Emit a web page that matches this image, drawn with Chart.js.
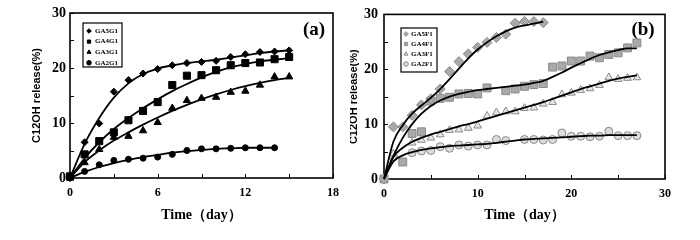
<!DOCTYPE html>
<html>
<head>
<meta charset="utf-8">
<script src="https://cdn.jsdelivr.net/npm/chart.js@4.4.1/dist/chart.umd.min.js"></script>
<style>
html, body { margin: 0; padding: 0; background: #fff; }
#wrap { position: relative; width: 700px; height: 240px; }
canvas { position: absolute; top: 0; }
#chartA { left: 0; }
#chartB { left: 350px; }
</style>
</head>
<body>
<div id="wrap">
  <canvas id="chartA" width="350" height="240"></canvas>
  <canvas id="chartB" width="350" height="240"></canvas>
</div>
<script>
// Panel (a) - GxG1 samples, measured points
const daysA = [0, 1, 2, 3, 4, 5, 6, 7, 8, 9, 10, 11, 12, 13, 14, 15];
const ga5g1 = [0, 6.5, 9.9, 15.7, 17.8, 19.0, 19.8, 20.5, 20.9, 21.1, 21.3, 22.0, 22.5, 22.9, 23.0, 23.2];
const ga4g1 = [0.3, 4.3, 6.7, 8.3, 10.5, 12.2, 13.8, 16.9, 18.6, 18.7, 19.6, 20.5, 20.9, 21.0, 21.6, 22.0];
const ga3g1 = [0, 2.8, 5.2, 7.4, 7.6, 8.6, 10.1, 12.7, 14.1, 14.5, 14.7, 15.6, 15.8, 16.9, 18.4, 18.4];
const ga2g1 = [0, 1.2, 2.4, 3.2, 3.4, 3.6, 3.8, 4.3, 5.0, 5.3, 5.3, 5.4, 5.5, 5.5, 5.5, null];

// Panel (a) - fitted curves
const fit5g1 = [0, 6.2, 10.9, 14.6, 17.2, 18.9, 19.9, 20.5, 20.9, 21.2, 21.5, 21.9, 22.3, 22.7, 23.0, 23.2];
const fit4g1 = [0, 3.6, 6.5, 8.9, 10.9, 12.7, 14.3, 15.8, 17.1, 18.3, 19.3, 20.1, 20.7, 21.2, 21.5, 21.8];
const fit3g1 = [0, 2.9, 5.0, 6.8, 8.3, 9.7, 11.0, 12.2, 13.3, 14.3, 15.2, 16.0, 16.7, 17.3, 17.8, 18.2];
const fit2g1 = [0, 1.1, 2.0, 2.7, 3.3, 3.8, 4.2, 4.6, 4.9, 5.1, 5.3, 5.4, 5.5, 5.5, 5.5, null];

// Panel (b) - GxF1 samples, measured points
const daysB = [0, 1, 2, 3, 4, 5, 6, 7, 8, 9, 10, 11, 12, 13, 14, 15, 16, 17, 18, 19, 20, 21, 22, 23, 24, 25, 26, 27];
const ga5f1 = [0, 9.5, 9.5, 11.6, 13.5, 14.6, 16.4, 19.6, 21.4, 22.8, 24.0, 24.9, 25.8, 26.4, 28.4, 28.7, 28.7, 28.5];
const ga4f1 = [0, null, 3.1, 8.3, 8.6, 14.2, 14.7, 14.9, 15.5, 15.6, 15.5, 16.6, null, 16.1, 16.4, 16.9, 17.2, 17.4, 20.4, 20.6, 21.5, 21.5, 22.4, 22.1, 22.7, 23.0, 23.9, 24.8];
const ga3f1 = [0, 4.6, null, 6.6, 7.1, 7.5, 8.1, 8.9, 9.0, 9.3, 9.7, 11.5, 12.1, 12.3, 12.3, 12.9, 13.0, 13.7, 14.0, 15.4, 15.7, 16.2, 16.5, 17.1, 18.5, 18.2, 18.4, 18.5];
const ga2f1 = [0, 4.0, null, 4.8, 5.1, 5.2, 5.9, 5.6, 6.2, 6.0, 6.2, 6.2, 7.2, 7.0, null, 7.2, 7.2, 7.1, 7.2, 8.4, 7.8, 7.8, 7.7, 7.8, 8.7, 7.9, 7.9, 7.9];

// Panel (b) - fitted curves
const fit5f1 = [0, 6.8, 9.8, 11.9, 13.4, 14.8, 16.4, 18.2, 20.1, 22.0, 23.6, 24.9, 26.0, 26.9, 27.6, 28.0, 28.3, 28.7];
const fit4f1 = [0, 4.2, 7.5, 10.0, 11.9, 13.3, 14.3, 15.0, 15.5, 15.9, 16.2, 16.4, 16.6, 16.8, 17.0, 17.2, 17.5, 17.9, 18.6, 19.4, 20.3, 21.1, 21.9, 22.6, 23.1, 23.5, 23.8, 23.8];
const fit3f1 = [0, 4.0, 5.7, 6.8, 7.5, 8.1, 8.6, 9.1, 9.6, 10.0, 10.5, 11.0, 11.5, 12.0, 12.5, 13.0, 13.5, 14.0, 14.6, 15.2, 15.8, 16.4, 16.9, 17.4, 17.9, 18.3, 18.6, 18.9];
const fit2f1 = [0, 3.2, 4.3, 4.9, 5.3, 5.6, 5.8, 6.0, 6.1, 6.2, 6.3, 6.4, 6.6, 6.8, 7.0, 7.2, 7.3, 7.4, 7.5, 7.6, 7.7, 7.8, 7.9, 7.9, 8.0, 8.0, 8.0, 8.0];

const serif = "'Liberation Serif', 'Times New Roman', serif";

// turn x list + y list into {x, y} points, dropping the gaps
function pts(xs, ys) {
    return xs.map((x, i) => ({ x: x, y: ys[i] })).filter(p => p.y !== null && p.y !== undefined);
}

function fitLine(xs, ys) {
    return {
        data: pts(xs, ys),
        fitLine: true,
        showLine: true,
        borderColor: '#000',
        borderWidth: 1.8,
        pointRadius: 0,
        cubicInterpolationMode: 'monotone',
        clip: false
    };
}

function marker(label, xs, ys, style, radius, fill, border) {
    return {
        label: label,
        data: pts(xs, ys),
        pointStyle: style,
        pointRadius: radius,
        backgroundColor: fill,
        borderColor: border,
        borderWidth: 1,
        showLine: false,
        clip: false
    };
}

// box around the plot, inward tick marks, inset legend and panel tag
const framePlugin = {
    id: 'frame',
    beforeDatasetsDraw(chart, args, opts) {
        const ctx = chart.ctx;
        const a = chart.chartArea;
        const sx = chart.scales.x, sy = chart.scales.y;
        ctx.save();
        ctx.strokeStyle = '#000';
        ctx.lineWidth = 1;
        sx.ticks.forEach(t => {
            const px = Math.round(sx.getPixelForValue(t.value)) + 0.5;
            ctx.beginPath();
            ctx.moveTo(px, a.bottom);
            ctx.lineTo(px, a.bottom - 4);
            ctx.stroke();
        });
        sy.ticks.forEach(t => {
            const py = Math.round(sy.getPixelForValue(t.value)) + 0.5;
            ctx.beginPath();
            ctx.moveTo(a.left, py);
            ctx.lineTo(a.left + 4, py);
            ctx.stroke();
        });
        ctx.lineWidth = 1.6;
        ctx.strokeRect(a.left, a.top, a.right - a.left, a.bottom - a.top);
        ctx.restore();
    },
    afterDatasetsDraw(chart, args, opts) {
        const ctx = chart.ctx;
        const lg = opts.legend;
        ctx.save();
        ctx.fillStyle = '#fff';
        ctx.fillRect(lg.x, lg.y, lg.w, lg.h);
        ctx.strokeStyle = '#000';
        ctx.lineWidth = 1.2;
        ctx.strokeRect(lg.x, lg.y, lg.w, lg.h);

        const items = chart.data.datasets.filter(d => !d.fitLine);
        items.forEach((d, i) => {
            const y = lg.y + lg.first + i * lg.gap;
            ctx.fillStyle = d.backgroundColor;
            ctx.strokeStyle = d.borderColor;
            ctx.lineWidth = 1;
            Chart.helpers.drawPoint(ctx, { pointStyle: d.pointStyle, radius: lg.r, rotation: 0, borderWidth: 1 }, lg.x + lg.mx, y);
            ctx.fillStyle = '#000';
            ctx.font = 'bold 7px ' + serif;
            ctx.textBaseline = 'middle';
            ctx.textAlign = 'left';
            ctx.fillText(d.label, lg.x + lg.tx, y);
        });

        ctx.font = 'bold 19px ' + serif;
        ctx.fillStyle = '#000';
        ctx.textAlign = 'center';
        ctx.textBaseline = 'middle';
        ctx.fillText(opts.tag, opts.tagX, opts.tagY);
        ctx.restore();
    }
};

function makeOptions(cfg) {
    return {
        responsive: false,
        animation: false,
        devicePixelRatio: 1,
        layout: { padding: { left: 0, top: cfg.top, right: cfg.right, bottom: 0 } },
        plugins: {
            legend: { display: false },
            tooltip: { enabled: false },
            frame: cfg.frame
        },
        scales: {
            x: {
                type: 'linear',
                min: 0,
                max: cfg.xMax,
                afterFit: s => { s.height = cfg.xHeight; },
                grid: { display: false, drawTicks: false },
                border: { display: false },
                ticks: {
                    stepSize: cfg.xStep,
                    padding: 8,
                    maxRotation: 0,
                    color: '#000',
                    font: { family: serif, size: 12, weight: 'bold' },
                    callback: v => (v % cfg.xLabelEvery === 0 ? v : '')
                },
                title: {
                    display: true,
                    text: 'Time（day）',
                    color: '#000',
                    font: { family: serif, size: 14, weight: 'bold' },
                    padding: { top: 0, bottom: 16 }
                }
            },
            y: {
                min: 0,
                max: 30,
                afterFit: s => { s.width = cfg.yWidth; },
                grid: { display: false, drawTicks: false },
                border: { display: false },
                ticks: {
                    stepSize: 5,
                    padding: cfg.yPad,
                    color: '#000',
                    font: { family: serif, size: 14, weight: 'bold' },
                    callback: v => (v % 10 === 0 ? v : '')
                },
                title: {
                    display: true,
                    text: 'C12OH release(%)',
                    color: '#000',
                    font: { family: "'Liberation Sans Narrow', 'Arial Narrow', 'Liberation Sans', sans-serif", size: 11, weight: 'bold' },
                    padding: { top: cfg.yTitlePad, bottom: 0 }
                }
            }
        }
    };
}

new Chart(document.getElementById('chartA'), {
    type: 'scatter',
    data: {
        datasets: [
            fitLine(daysA, fit5g1),
            fitLine(daysA, fit4g1),
            fitLine(daysA, fit3g1),
            fitLine(daysA, fit2g1),
            marker('GA5G1', daysA, ga5g1, 'rectRot', 3.5, '#000', '#000'),
            marker('GA4G1', daysA, ga4g1, 'rect', 5, '#000', '#000'),
            marker('GA3G1', daysA, ga3g1, 'triangle', 4.2, '#000', '#000'),
            marker('GA2G1', daysA, ga2g1, 'circle', 3, '#000', '#000')
        ]
    },
    options: makeOptions({
        top: 13, right: 17, xHeight: 62, yWidth: 70, yTitlePad: 30, yPad: 4,
        xMax: 18, xStep: 3, xLabelEvery: 6,
        frame: {
            legend: { x: 83, y: 23, w: 39, h: 44, first: 8, gap: 10.6, mx: 6, tx: 12, r: 2.3 },
            tag: '(a)', tagX: 314, tagY: 30
        }
    }),
    plugins: [framePlugin]
});

new Chart(document.getElementById('chartB'), {
    type: 'scatter',
    data: {
        datasets: [
            fitLine(daysB, fit5f1),
            fitLine(daysB, fit4f1),
            fitLine(daysB, fit3f1),
            fitLine(daysB, fit2f1),
            marker('GA5F1', daysB, ga5f1, 'rectRot', 5, '#a9a9a9', '#8a8a8a'),
            marker('GA4F1', daysB, ga4f1, 'rect', 5.6, '#a9a9a9', '#8a8a8a'),
            marker('GA3F1', daysB, ga3f1, 'triangle', 4.5, '#e6e6e6', '#8a8a8a'),
            marker('GA2F1', daysB, ga2f1, 'circle', 4, '#dcdcdc', '#8a8a8a')
        ]
    },
    options: makeOptions({
        top: 14, right: 35, xHeight: 61, yWidth: 34, yTitlePad: -3, yPad: 6,
        xMax: 30, xStep: 5, xLabelEvery: 10,
        frame: {
            legend: { x: 51, y: 28, w: 36, h: 44, first: 6, gap: 10, mx: 5, tx: 10, r: 2.3 },
            tag: '(b)', tagX: 293, tagY: 30
        }
    }),
    plugins: [framePlugin]
});
</script>
</body>
</html>
